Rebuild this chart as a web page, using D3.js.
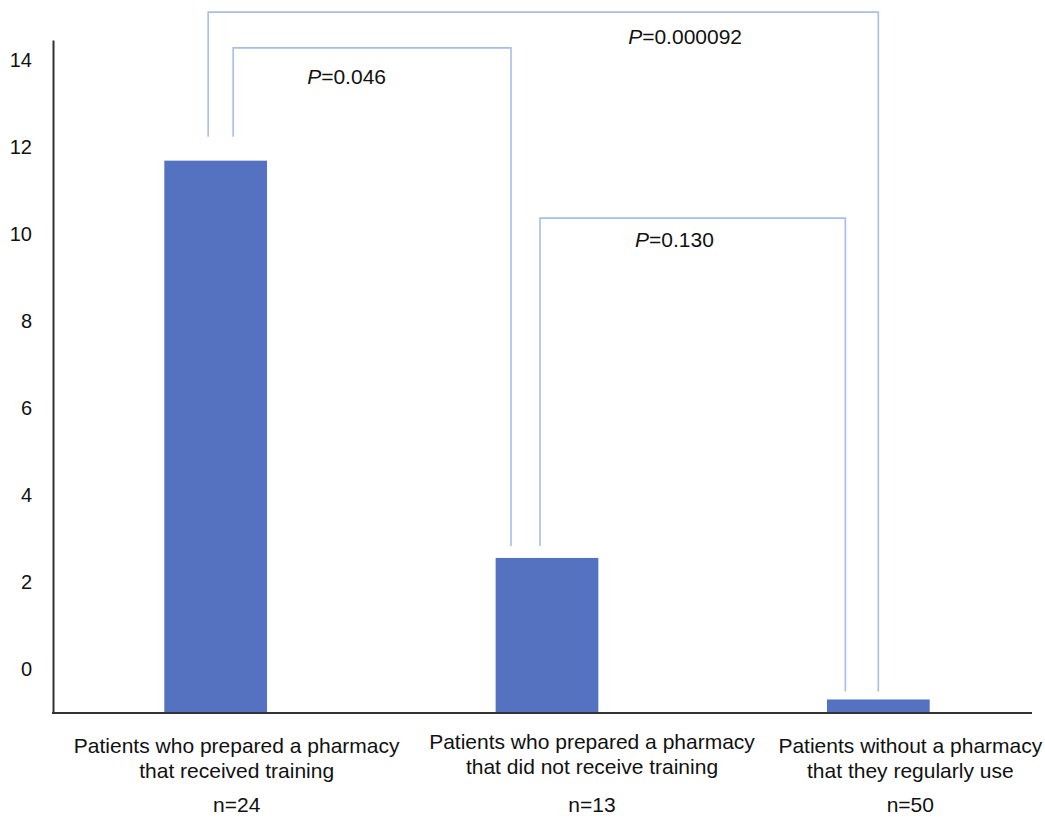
<!DOCTYPE html>
<html>
<head>
<meta charset="utf-8">
<script src="https://cdn.jsdelivr.net/npm/d3@7"></script>
<style>
  body { margin: 0; background: #fff; }
  text { font-family: 'Liberation Sans', Arial, sans-serif; fill: #111; }
</style>
</head>
<body>
<div id="chart"></div>
<script>
// data
const groups = ['trained', 'untrained', 'none'];
const labelLines = [
  ['Patients who prepared a pharmacy', 'that received training'],
  ['Patients who prepared a pharmacy', 'that did not receive training'],
  ['Patients without a pharmacy', 'that they regularly use'],
];
const sampleSizes = ['n=24', 'n=13', 'n=50'];
const values = [11.68, 2.56, -0.69];
const yTicks = [0, 2, 4, 6, 8, 10, 12, 14];
const comparisons = [
  { from: 0, to: 2, p: '0.000092' },
  { from: 0, to: 1, p: '0.046' },
  { from: 1, to: 2, p: '0.130' },
];

const width = 1045;
const height = 818;
const margin = { top: 40, right: 13, bottom: 105, left: 53 };
const barColor = '#5572c1';
const bracketColor = '#a9bde9';

/* layout of the comparison brackets (pixels) */
const bracketLayout = [
  { level: 15.09, dx: [-7.5, 0], labelDx: 420, labelDy: 32 },
  { level: 14.27, dx: [17.5, -36], labelDx: 74, labelDy: 36 },
  { level: 10.36, dx: [-7, -33], labelDx: 95, labelDy: 29 },
];
const legGap = [24, 12, 8];
const labelShift = [21, 45, 32];

const svg = d3.select('#chart').append('svg')
  .attr('width', width)
  .attr('height', height)
  .attr('viewBox', [0, 0, width, height]);

const x = d3.scaleBand()
  .domain(groups)
  .range([50, 1044])
  .paddingInner(0.69)
  .paddingOuter(0.345);

const y = d3.scaleLinear()
  .domain([-1, 14.45])
  .range([height - margin.bottom, margin.top]);

const cx = (i) => x(groups[i]) + x.bandwidth() / 2;

/* BARS */

svg.append('g')
  .selectAll('rect')
  .data(values)
  .join('rect')
  .attr('x', (d, i) => x(groups[i]))
  .attr('y', (d) => y(d))
  .attr('width', x.bandwidth())
  .attr('height', (d) => y(-1) - y(d))
  .attr('fill', barColor);

/* Y-AXIS */

svg.append('g')
  .attr('transform', `translate(${margin.left}, 0)`)
  .call(d3.axisLeft(y)
    .tickValues(yTicks)
    .tickSize(0)
    .tickPadding(21))
  .call((g) => g.select('.domain')
    .attr('stroke', '#333')
    .attr('stroke-width', 2))
  .call((g) => g.selectAll('.tick text')
    .attr('font-size', 20)
    .attr('font-family', "'Liberation Sans', Arial, sans-serif")
    .attr('fill', '#111'));

/* X-AXIS */

svg.append('line')
  .attr('x1', margin.left - 1)
  .attr('x2', width - margin.right)
  .attr('y1', y(-1))
  .attr('y2', y(-1))
  .attr('stroke', '#333')
  .attr('stroke-width', 2);

const xLabels = svg.append('g')
  .selectAll('g')
  .data(groups)
  .join('g')
  .attr('transform', (d, i) => `translate(${cx(i) + labelShift[i]}, 0)`)
  .attr('text-anchor', 'middle')
  .attr('font-size', 21);

xLabels.each(function (d, i) {
  const g = d3.select(this);
  const top = i === 1 ? 749 : 753;
  labelLines[i].forEach((line, k) => {
    g.append('text')
      .attr('y', top + k * 25)
      .text(line);
  });
  g.append('text')
    .attr('y', 812)
    .text(sampleSizes[i]);
});

/* SIGNIFICANCE BRACKETS */

const brackets = svg.append('g')
  .selectAll('g')
  .data(comparisons)
  .join('g');

brackets.append('path')
  .attr('fill', 'none')
  .attr('stroke', bracketColor)
  .attr('stroke-width', 1.6)
  .attr('d', (d, i) => {
    const l = bracketLayout[i];
    const x1 = cx(d.from) + l.dx[0];
    const x2 = cx(d.to) + l.dx[1];
    const top = y(l.level);
    return `M${x1},${y(values[d.from]) - legGap[d.from]}V${top}H${x2}V${y(values[d.to]) - legGap[d.to]}`;
  });

brackets.append('text')
  .attr('x', (d, i) => cx(d.from) + bracketLayout[i].dx[0] + bracketLayout[i].labelDx)
  .attr('y', (d, i) => y(bracketLayout[i].level) + bracketLayout[i].labelDy)
  .attr('font-size', 21)
  .call((t) => t.append('tspan').attr('font-style', 'italic').text('P'))
  .call((t) => t.append('tspan').text((d) => `=${d.p}`));
</script>
</body>
</html>
